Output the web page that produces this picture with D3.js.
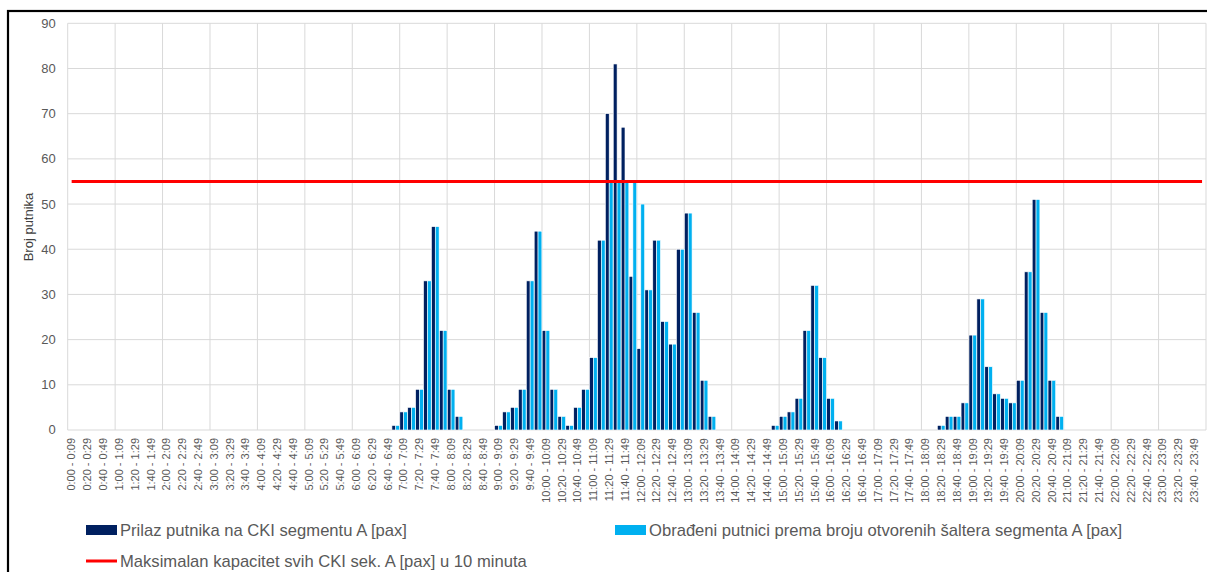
<!DOCTYPE html>
<html>
<head>
<meta charset="utf-8">
<script src="https://cdn.jsdelivr.net/npm/d3@7"></script>
<style>
  body { margin: 0; background: #ffffff; }
  svg { display: block; font-family: "Liberation Sans", Arial, sans-serif; }
</style>
</head>
<body>
<div id="chart"></div>
<script>
// 10-minute slots over one day: "0:00 - 0:09" ... "23:50 - 23:59"
const slots = [];
for (let h = 0; h < 24; h++) {
    for (let m = 0; m < 60; m += 10) {
        const mm = d3.format("02")(m), me = d3.format("02")(m + 9);
        slots.push(h + ":" + mm + " - " + h + ":" + me);
    }
}

// arrivals at CKI segment A (one row = one hour, 6 slots)
const arrivals = [
    0, 0, 0, 0, 0, 0,
    0, 0, 0, 0, 0, 0,
    0, 0, 0, 0, 0, 0,
    0, 0, 0, 0, 0, 0,
    0, 0, 0, 0, 0, 0,
    0, 0, 0, 0, 0, 0,
    0, 0, 0, 0, 0, 1,
    4, 5, 9, 33, 45, 22,
    9, 3, 0, 0, 0, 0,
    1, 4, 5, 9, 33, 44,
    22, 9, 3, 1, 5, 9,
    16, 42, 70, 81, 67, 34,
    18, 31, 42, 24, 19, 40,
    48, 26, 11, 3, 0, 0,
    0, 0, 0, 0, 0, 1,
    3, 4, 7, 22, 32, 16,
    7, 2, 0, 0, 0, 0,
    0, 0, 0, 0, 0, 0,
    0, 0, 1, 3, 3, 6,
    21, 29, 14, 8, 7, 6,
    11, 35, 51, 26, 11, 3,
    0, 0, 0, 0, 0, 0,
    0, 0, 0, 0, 0, 0,
    0, 0, 0, 0, 0, 0
];

// processed by open counters
const processed = [
    0, 0, 0, 0, 0, 0,
    0, 0, 0, 0, 0, 0,
    0, 0, 0, 0, 0, 0,
    0, 0, 0, 0, 0, 0,
    0, 0, 0, 0, 0, 0,
    0, 0, 0, 0, 0, 0,
    0, 0, 0, 0, 0, 1,
    4, 5, 9, 33, 45, 22,
    9, 3, 0, 0, 0, 0,
    1, 4, 5, 9, 33, 44,
    22, 9, 3, 1, 5, 9,
    16, 42, 55, 55, 55, 55,
    50, 31, 42, 24, 19, 40,
    48, 26, 11, 3, 0, 0,
    0, 0, 0, 0, 0, 1,
    3, 4, 7, 22, 32, 16,
    7, 2, 0, 0, 0, 0,
    0, 0, 0, 0, 0, 0,
    0, 0, 1, 3, 3, 6,
    21, 29, 14, 8, 7, 6,
    11, 35, 51, 26, 11, 3,
    0, 0, 0, 0, 0, 0,
    0, 0, 0, 0, 0, 0,
    0, 0, 0, 0, 0, 0
];

const capacity = 55;
const yTicks = [0, 10, 20, 30, 40, 50, 60, 70, 80, 90];

const seriesNames = [
    "Prilaz putnika na CKI segmentu A [pax]",
    "Obrađeni putnici prema broju otvorenih šaltera segmenta A [pax]",
    "Maksimalan kapacitet svih CKI sek. A [pax] u 10 minuta"
];
const colors = ["#002060", "#00B0F0", "#FF0000"];

const W = 1207, H = 572;
const margin = {top: 23.3, right: 1, bottom: 142, left: 67.7};
const width = W - margin.left - margin.right,
    height = H - margin.top - margin.bottom;

const svg = d3.select("#chart")
    .append("svg")
        .attr("width", W)
        .attr("height", H);

// chart frame
svg.append("rect")
    .attr("x", 8)
    .attr("y", 11)
    .attr("width", W + 10)
    .attr("height", H + 10)
    .attr("fill", "none")
    .attr("stroke", "#000000")
    .attr("stroke-width", 2.2);

const g = svg.append("g")
    .attr("transform", "translate(" + margin.left + "," + margin.top + ")");

const x = d3.scaleBand()
    .domain(slots)
    .range([0, width])
    .paddingInner(0.03)
    .paddingOuter(0.015);

const xSub = d3.scaleBand()
    .domain([0, 1])
    .range([0, x.bandwidth()]);

const y = d3.scaleLinear()
    .domain([0, 90])
    .range([height, 0]);

const step = width / slots.length;

// horizontal gridlines
g.selectAll(".hgrid")
    .data(yTicks)
    .join("line")
        .attr("class", "hgrid")
        .attr("x1", 0)
        .attr("x2", width)
        .attr("y1", d => y(d))
        .attr("y2", d => y(d))
        .attr("stroke", "#D9D9D9")
        .attr("stroke-width", 1);

// vertical gridlines, one per hour
g.selectAll(".vgrid")
    .data(d3.range(0, slots.length + 1, 6))
    .join("line")
        .attr("class", "vgrid")
        .attr("x1", d => d * step)
        .attr("x2", d => d * step)
        .attr("y1", 0)
        .attr("y2", height)
        .attr("stroke", "#D9D9D9")
        .attr("stroke-width", 1);

// y tick labels
g.selectAll(".ytick")
    .data(yTicks)
    .join("text")
        .attr("class", "ytick")
        .attr("x", -12)
        .attr("y", d => y(d) + 4.5)
        .attr("text-anchor", "end")
        .attr("fill", "#595959")
        .style("font-size", "13px")
        .text(d => d);

// x tick labels, every second slot
g.selectAll(".xtick")
    .data(slots.filter((d, i) => i % 2 === 0))
    .join("text")
        .attr("class", "xtick")
        .attr("transform", d => "translate(" + (x(d) + x.bandwidth() / 2 + 3.8) + "," + (height + 8) + ") rotate(-90)")
        .attr("text-anchor", "end")
        .attr("fill", "#595959")
        .style("font-size", "11px")
        .text(d => d);

// y axis title
svg.append("text")
    .attr("transform", "translate(33,227) rotate(-90)")
    .attr("text-anchor", "middle")
    .attr("fill", "#404040")
    .style("font-size", "13px")
    .text("Broj putnika");

// bars
const series = [arrivals, processed];
series.forEach((vals, s) => {
    g.selectAll(".bar-" + s)
        .data(slots.map((d, i) => ({slot: d, v: vals[i]})).filter(d => d.v > 0))
        .join("rect")
            .attr("class", "bar-" + s)
            .attr("x", d => x(d.slot) + xSub(s))
            .attr("y", d => y(d.v))
            .attr("width", xSub.bandwidth())
            .attr("height", d => y(0) - y(d.v))
            .attr("fill", colors[s])
            .attr("stroke", "#ffffff")
            .attr("stroke-width", 0.6);
});

// capacity line
const line = d3.line()
    .x(d => x(d) + x.bandwidth() / 2)
    .y(() => y(capacity));

g.append("path")
    .datum(slots)
    .attr("d", line)
    .attr("fill", "none")
    .attr("stroke", colors[2])
    .attr("stroke-width", 3);

// legend
const legend = svg.append("g");
const legendItems = [
    {x: 86, y: 530, type: "rect"},
    {x: 615, y: 530, type: "rect"},
    {x: 86, y: 561, type: "line"}
];

legendItems.forEach((it, i) => {
    if (it.type === "rect") {
        legend.append("rect")
            .attr("x", it.x)
            .attr("y", it.y - 5)
            .attr("width", 31)
            .attr("height", 10)
            .attr("fill", colors[i]);
    } else {
        legend.append("line")
            .attr("x1", it.x)
            .attr("x2", it.x + 31)
            .attr("y1", it.y)
            .attr("y2", it.y)
            .attr("stroke", colors[i])
            .attr("stroke-width", 3);
    }
    legend.append("text")
        .attr("x", it.x + 34)
        .attr("y", it.y + 5.5)
        .attr("fill", "#595959")
        .style("font-size", "16.6px")
        .text(seriesNames[i]);
});
</script>
</body>
</html>
